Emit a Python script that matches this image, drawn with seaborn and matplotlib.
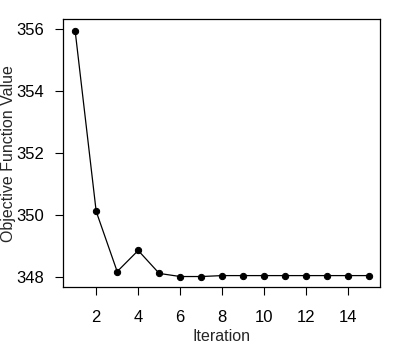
"""
目标函数收敛曲线
"""
import numpy as np
import pandas as pd
import matplotlib
matplotlib.use('Agg')
import matplotlib.pyplot as plt
import seaborn as sns

iterations = [1, 2, 3, 4, 5, 6, 7, 8, 9, 10, 11, 12, 13, 14, 15]
objective = [355.94, 350.13, 348.19, 348.87, 348.13, 348.03, 348.03, 348.06,
             348.06, 348.06, 348.06, 348.06, 348.06, 348.06, 348.06]
x_ticks = [2, 4, 6, 8, 10, 12, 14]
y_ticks = [348, 350, 352, 354, 356]

sns.set_style('ticks')
plt.rcParams['font.family'] = ['Liberation Sans', 'DejaVu Sans']

df = pd.DataFrame({'Iteration': iterations, 'Objective Function Value': objective})

fig = plt.figure(figsize=(4.0, 3.45), dpi=100)
ax = fig.add_axes([0.158, 0.167, 0.793, 0.777])
sns.lineplot(data=df, x='Iteration', y='Objective Function Value', ax=ax,
             color='black', linewidth=0.9, marker='o', markersize=4.5,
             markeredgecolor='black', markerfacecolor='black')

ax.set_xlim(0.43, 15.53)
ax.set_ylim(347.68, 356.32)
ax.set_xticks(x_ticks)
ax.set_yticks(y_ticks)
ax.tick_params(axis='both', direction='out', length=6, width=0.8,
               labelsize=12, colors='black')
ax.tick_params(axis='x', pad=10)
ax.tick_params(axis='y', pad=8)
for s in ax.spines.values():
    s.set_visible(True)
    s.set_color('black')
    s.set_linewidth(0.9)
ax.set_xlabel('Iteration', fontsize=11.5, labelpad=3)
ax.set_ylabel('Objective Function Value', fontsize=11.5)
ax.yaxis.set_label_coords(-0.148, 0.5)

fig.savefig('out.png', dpi=100)
plt.close(fig)
